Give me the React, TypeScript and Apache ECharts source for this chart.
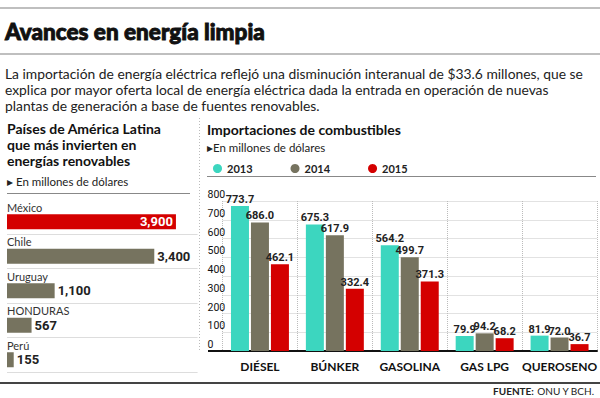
import React, { useEffect, useRef } from "react";
import * as echarts from "echarts";

const countries = ["México", "Chile", "Uruguay", "HONDURAS", "Perú"];
const investment = [3900, 3400, 1100, 567, 155];

const fuels = ["DIÉSEL", "BÚNKER", "GASOLINA", "GAS LPG", "QUEROSENO"];
const years = ["2013", "2014", "2015"];
const imports2013 = [773.7, 675.3, 564.2, 79.9, 81.9];
const imports2014 = [686.0, 617.9, 499.7, 94.2, 72.0];
const imports2015 = [462.1, 332.4, 371.3, 68.2, 36.7];

const paragraph = [
  "La importación de energía eléctrica reflejó una disminución interanual de $33.6 millones, que se",
  "explica por mayor oferta local de energía eléctrica dada la entrada en operación de nuevas",
  "plantas de generación a base de fuentes renovables.",
];
const leftHeading = ["Países de América Latina", "que más invierten en", "energías renovables"];

const NUM = "Roboto, 'Noto Sans', sans-serif";
const BODY = "Lato, 'Noto Sans', sans-serif";
const C2013 = "#3cd6bf";
const C2014 = "#76735f";
const C2015 = "#d40000";

export default function App() {
  const ref = useRef<HTMLDivElement>(null);
  useEffect(() => {
    if (!ref.current) return;
    const chart = echarts.init(ref.current, undefined, { renderer: "svg" });
    const fmt = (v: number) => v.toFixed(1);
    const barLabel = {
      show: true,
      position: "top",
      distance: 1,
      fontFamily: NUM,
      fontWeight: "bold",
      fontSize: 11,
      color: "#222",
      formatter: (p: any) => fmt(p.value),
    };
    chart.setOption({
      animation: false,
      backgroundColor: "#fff",
      textStyle: { fontFamily: BODY },
      legend: {
        left: 208,
        top: 158,
        icon: "circle",
        itemWidth: 9,
        itemHeight: 9,
        itemGap: 38,
        textStyle: { fontFamily: BODY, fontWeight: "bold", fontSize: 11, color: "#222" },
        data: years,
      },
      grid: [
        { left: 7, top: 204.5, width: 190.6, height: 172.5 },
        { left: 222.5, top: 201, width: 376.2, height: 150 },
        { left: 7, top: 199.5, width: 190.6, height: 172.5 },
      ],
      xAxis: [
        { gridIndex: 0, type: "value", min: 0, max: 4400, show: false },
        {
          gridIndex: 1,
          type: "category",
          data: fuels,
          axisLine: { lineStyle: { color: "#111", width: 2 } },
          axisTick: { show: false },
          axisLabel: {
            interval: 0,
            hideOverlap: false,
            fontFamily: BODY,
            fontWeight: "bold",
            fontSize: 12,
            color: "#111",
            margin: 9,
          },
          splitLine: { show: true, lineStyle: { type: "dotted", color: "#bbb" } },
        },
        { gridIndex: 2, type: "value", min: 0, max: 4400, show: false },
      ],
      yAxis: [
        {
          gridIndex: 0,
          type: "category",
          data: countries,
          inverse: true,
          axisLine: { show: false },
          axisTick: { show: false },
          axisLabel: {
            inside: true,
            margin: 0,
            align: "left",
            verticalAlign: "bottom",
            padding: [0, 0, 9, 0],
            fontFamily: BODY,
            fontSize: 11,
            color: "#333",
          },
          splitLine: { show: false },
        },
        {
          gridIndex: 1,
          type: "value",
          min: 0,
          max: 800,
          interval: 100,
          axisLine: { show: false },
          axisTick: { show: false },
          axisLabel: {
            margin: 15,
            align: "left",
            verticalAlign: "bottom",
            padding: [0, 0, 1, 0],
            fontFamily: NUM,
            fontSize: 10.5,
            color: "#111",
          },
          splitLine: { lineStyle: { color: "#e2e2e2" } },
        },
        {
          gridIndex: 2,
          type: "category",
          data: countries,
          inverse: true,
          axisLine: { show: false },
          axisTick: { show: false },
          axisLabel: { show: false },
          splitLine: {
            show: true,
            interval: (i: number) => i > 0,
            lineStyle: { color: "#ddd" },
          },
        },
      ],
      series: [
        {
          type: "bar",
          xAxisIndex: 0,
          yAxisIndex: 0,
          barWidth: 15,
          data: investment.map((v, i) =>
            i === 0
              ? {
                  value: v,
                  itemStyle: { color: C2015 },
                  label: { position: "insideRight", color: "#fff", distance: 3 },
                }
              : { value: v }
          ),
          itemStyle: { color: C2014 },
          label: {
            show: true,
            position: "right",
            distance: 3,
            fontFamily: NUM,
            fontWeight: "bold",
            fontSize: 13,
            color: "#222",
            formatter: (p: any) => p.value.toLocaleString("en-US"),
          },
        },
        {
          name: "2013",
          type: "bar",
          xAxisIndex: 1,
          yAxisIndex: 1,
          barWidth: 18,
          barGap: "11%",
          itemStyle: { color: C2013 },
          label: barLabel,
          data: imports2013,
        },
        {
          name: "2014",
          type: "bar",
          xAxisIndex: 1,
          yAxisIndex: 1,
          barWidth: 18,
          barGap: "11%",
          itemStyle: { color: C2014 },
          label: barLabel,
          data: imports2014,
        },
        {
          name: "2015",
          type: "bar",
          xAxisIndex: 1,
          yAxisIndex: 1,
          barWidth: 18,
          barGap: "11%",
          itemStyle: { color: C2015 },
          label: barLabel,
          data: imports2015,
        },
      ],
      graphic: [
        { type: "line", shape: { x1: 0, y1: 8, x2: 600, y2: 8 }, style: { stroke: "#aaa", lineWidth: 1.5 } },
        {
          type: "text",
          x: 5,
          y: 31,
          style: {
            text: "Avances en energía limpia",
            font: `900 22.5px ${BODY}`,
            fill: "#111",
            stroke: "#111",
            lineWidth: 0.9,
            verticalAlign: "middle",
          },
        },
        { type: "line", shape: { x1: 0, y1: 54, x2: 600, y2: 54 }, style: { stroke: "#aaa", lineWidth: 1.5 } },
        ...paragraph.map((t, i) => ({
          type: "text",
          x: 5,
          y: 73 + i * 16,
          style: { text: t, font: `13.85px ${BODY}`, fill: "#222", verticalAlign: "middle" },
        })),
        ...leftHeading.map((t, i) => ({
          type: "text",
          x: 7,
          y: 128 + i * 16,
          style: { text: t, font: `bold 14px ${BODY}`, fill: "#111", verticalAlign: "middle" },
        })),
        {
          type: "text",
          x: 7,
          y: 181,
          style: { text: "▸ En millones de dólares", font: `11.5px ${BODY}`, fill: "#222", verticalAlign: "middle" },
        },
        { type: "line", shape: { x1: 7, y1: 193.5, x2: 190, y2: 193.5 }, style: { stroke: "#888", lineWidth: 1 } },
        {
          type: "line",
          shape: { x1: 199.5, y1: 118, x2: 199.5, y2: 352 },
          style: { stroke: "#bbb", lineWidth: 1, lineDash: [1, 2] },
        },
        {
          type: "text",
          x: 207,
          y: 129,
          style: { text: "Importaciones de combustibles", font: `bold 14px ${BODY}`, fill: "#111", verticalAlign: "middle" },
        },
        {
          type: "text",
          x: 207,
          y: 147,
          style: { text: "▸En millones de dólares", font: `11.5px ${BODY}`, fill: "#222", verticalAlign: "middle" },
        },
        { type: "line", shape: { x1: 207, y1: 176.5, x2: 596, y2: 176.5 }, style: { stroke: "#888", lineWidth: 1 } },
        { type: "line", shape: { x1: 208, y1: 351, x2: 223, y2: 351 }, style: { stroke: "#111", lineWidth: 2 } },
        { type: "line", shape: { x1: 0, y1: 383, x2: 600, y2: 383 }, style: { stroke: "#444", lineWidth: 2 } },
        {
          type: "text",
          x: 594,
          y: 391,
          style: {
            text: "{b|FUENTE:} ONU Y BCH.",
            font: `10px ${BODY}`,
            fill: "#222",
            align: "right",
            verticalAlign: "middle",
            rich: { b: { fontWeight: "bold", fontSize: 10, fontFamily: BODY, fill: "#222" } },
          },
        },
      ],
    });
    return () => chart.dispose();
  }, []);
  return (
    <div
      ref={ref}
      style={{ position: "fixed", left: 0, top: 0, width: 600, height: 398, background: "#fff" }}
    />
  );
}
